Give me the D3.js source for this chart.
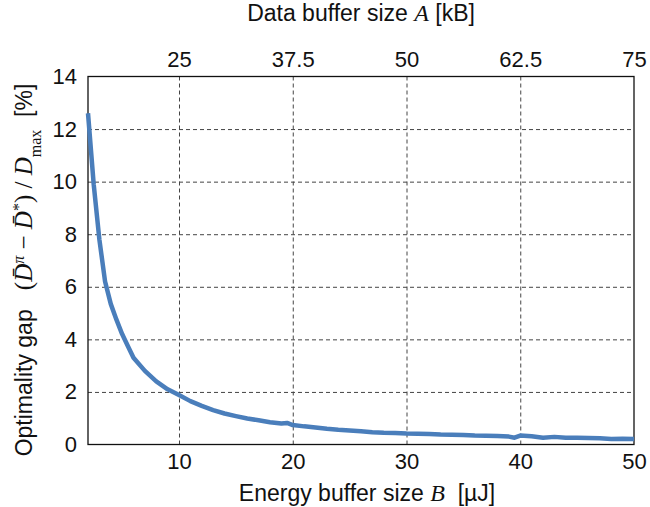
<!DOCTYPE html>
<html>
<head>
<meta charset="utf-8">
<script src="https://cdn.jsdelivr.net/npm/d3@7"></script>
<style>
  body { margin: 0; background: #fff; }
  text { font-family: "Liberation Sans", Arial, sans-serif; fill: #111; }
  .math { font-family: "Liberation Serif", "DejaVu Serif", serif; font-style: italic; }
</style>
</head>
<body>
<script>
// energy buffer size B [uJ] and optimality gap [%]
const energyB = [2, 2.5, 3, 3.5, 4, 4.5, 5, 5.5, 6, 7, 8, 9, 10, 11, 12, 13, 14, 15, 16, 17, 18, 19, 19.5,
  20, 21, 22, 23, 24, 25, 26, 27, 28, 29, 30, 31, 32, 33, 34, 35, 36, 37, 38, 39, 39.5,
  40, 41, 42, 43, 44, 45, 46, 47, 48, 49, 50];
const gap = [12.6, 9.9, 7.8, 6.2, 5.35, 4.75, 4.2, 3.75, 3.3, 2.8, 2.4, 2.1, 1.88, 1.65, 1.47, 1.31, 1.18, 1.08, 0.99, 0.92, 0.85, 0.8, 0.82,
  0.74, 0.69, 0.65, 0.6, 0.56, 0.53, 0.5, 0.47, 0.45, 0.44, 0.42, 0.41, 0.4, 0.38, 0.37, 0.36, 0.34, 0.33, 0.32, 0.3, 0.26,
  0.34, 0.31, 0.26, 0.29, 0.26, 0.26, 0.25, 0.24, 0.21, 0.22, 0.21];

const bottomTicks = [10, 20, 30, 40, 50];
const topTicks = [25, 37.5, 50, 62.5, 75];
const yTicks = [0, 2, 4, 6, 8, 10, 12, 14];

const width = 650, height = 507;
const margin = {top: 76.5, right: 16, bottom: 62.5, left: 88};
const fs = "22px";

const svg = d3.select("body").append("svg")
    .attr("width", width)
    .attr("height", height);

const x = d3.scaleLinear().domain([2, 50]).range([margin.left, width - margin.right]);
// data buffer A = 1.25 * B + 12.5
const xTop = d3.scaleLinear().domain([15, 75]).range([margin.left, width - margin.right]);
const y = d3.scaleLinear().domain([0, 14]).range([height - margin.bottom, margin.top]);

const plotW = width - margin.left - margin.right;
const plotH = height - margin.top - margin.bottom;

// grid
const xGrid = svg.append("g")
    .attr("transform", `translate(0,${height - margin.bottom})`)
    .call(d3.axisBottom(x).tickValues(bottomTicks.slice(0, -1)).tickSize(-plotH).tickFormat(""));
const yGrid = svg.append("g")
    .attr("transform", `translate(${margin.left},0)`)
    .call(d3.axisLeft(y).tickValues(yTicks.slice(1, -1)).tickSize(-plotW).tickFormat(""));
[xGrid, yGrid].forEach(g => {
    g.select(".domain").remove();
    g.selectAll("line").attr("stroke", "#444").attr("stroke-width", 1).attr("stroke-dasharray", "4,3");
});

// frame
svg.append("rect")
    .attr("x", margin.left).attr("y", margin.top)
    .attr("width", plotW).attr("height", plotH)
    .attr("fill", "none").attr("stroke", "#111").attr("stroke-width", 1.3);

// tick labels
const bottomAxis = svg.append("g")
    .attr("transform", `translate(0,${height - margin.bottom})`)
    .call(d3.axisBottom(x).tickValues(bottomTicks).tickSize(0).tickPadding(9));
const topAxis = svg.append("g")
    .attr("transform", `translate(0,${margin.top})`)
    .call(d3.axisTop(xTop).tickValues(topTicks).tickSize(0).tickPadding(10).tickFormat(d => String(d)));
const leftAxis = svg.append("g")
    .attr("transform", `translate(${margin.left},0)`)
    .call(d3.axisLeft(y).tickValues(yTicks).tickSize(0).tickPadding(11));
[bottomAxis, topAxis, leftAxis].forEach(g => {
    g.select(".domain").remove();
    g.selectAll("text").style("font-size", fs).style("font-family", "Liberation Sans, Arial, sans-serif").attr("fill", "#111");
});

// curve
svg.append("path")
    .datum(energyB.map((b, i) => [b, gap[i]]))
    .attr("fill", "none")
    .attr("stroke", "#4a7ebb")
    .attr("stroke-width", 4.5)
    .attr("stroke-linejoin", "round")
    .attr("d", d3.line().x(d => x(d[0])).y(d => y(d[1])));

// axis titles
const bt = svg.append("text")
    .attr("x", 367)
    .attr("y", 501)
    .attr("text-anchor", "middle")
    .style("font-size", "23px");
bt.append("tspan").text("Energy buffer size ");
bt.append("tspan").attr("class", "math").style("font-size", "24px").text("B");
bt.append("tspan").text("\u00a0 [µJ]");

const tt = svg.append("text")
    .attr("x", 361)
    .attr("y", 21)
    .attr("text-anchor", "middle")
    .style("font-size", "23px");
tt.append("tspan").text("Data buffer size ");
tt.append("tspan").attr("class", "math").style("font-size", "24px").text("A");
tt.append("tspan").text(" [kB]");

const ms = "25px", ss = "16px";
const yt = svg.append("text")
    .attr("transform", `translate(32,270) rotate(-90)`)
    .attr("text-anchor", "middle")
    .style("font-size", "23px");
yt.append("tspan").text("Optimality gap \u00a0 ");
yt.append("tspan").attr("class", "math").style("font-size", ms).style("font-style", "normal").text("(");
yt.append("tspan").attr("class", "math").style("font-size", ms).text("D\u0304");
yt.append("tspan").attr("class", "math").attr("baseline-shift", "super").style("font-size", ss).text("π");
yt.append("tspan").attr("class", "math").style("font-size", ms).style("font-style", "normal").text(" − ");
yt.append("tspan").attr("class", "math").style("font-size", ms).text("D\u0304");
yt.append("tspan").attr("class", "math").attr("baseline-shift", "super").style("font-size", ss).style("font-style", "normal").text("*");
yt.append("tspan").attr("class", "math").style("font-size", ms).style("font-style", "normal").text(") / ");
yt.append("tspan").attr("class", "math").style("font-size", ms).text("D");
yt.append("tspan").attr("class", "math").attr("baseline-shift", "sub").style("font-size", ss).style("font-style", "normal").text("max");
yt.append("tspan").text("\u00a0 [%]");
</script>
</body>
</html>
